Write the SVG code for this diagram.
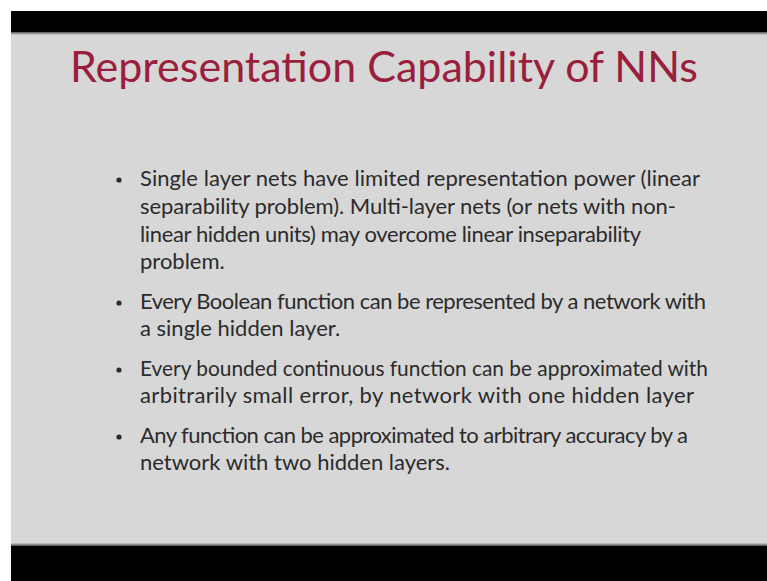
<svg xmlns="http://www.w3.org/2000/svg" width="767" height="581" viewBox="0 0 767 581">
  <defs>
    <linearGradient id="topEdge" x1="0" y1="0" x2="0" y2="1">
      <stop offset="0" stop-color="#555"/>
      <stop offset="1" stop-color="#d2d2d2"/>
    </linearGradient>
    <linearGradient id="bottomEdge" x1="0" y1="0" x2="0" y2="1">
      <stop offset="0" stop-color="#cfcfcf"/>
      <stop offset="1" stop-color="#4a4a4a"/>
    </linearGradient>
  </defs>
  <style>
    .title { font-family: Lato, "Open Sans", "Liberation Sans", sans-serif; font-size: 42px; fill: #9a1f3c; }
    .body { font-family: Lato, "Open Sans", "Liberation Sans", sans-serif; font-size: 22px; fill: #2b2b2b; }
    .dot { fill: #2b2b2b; }
  </style>

  <!-- page and slide frame -->
  <rect x="0" y="0" width="767" height="581" fill="#ffffff"/>
  <rect x="11" y="11" width="756" height="570" fill="#d7d7d7"/>
  <rect x="11" y="11" width="756" height="21" fill="#000000"/>
  <rect x="11" y="32" width="756" height="3" fill="url(#topEdge)"/>
  <rect x="11" y="543" width="756" height="3" fill="url(#bottomEdge)"/>
  <rect x="11" y="546" width="756" height="35" fill="#000000"/>

  <!-- heading -->
  <text id="title" class="title" x="70" y="82" textLength="628" lengthAdjust="spacingAndGlyphs">Representation Capability of NNs</text>

  <!-- bullet list -->
  <g id="bullet1">
    <circle class="dot" cx="119" cy="180" r="2.6"/>
    <text class="body" x="140" y="186" textLength="560" lengthAdjust="spacing">Single layer nets have limited representation power (linear</text>
    <text class="body" x="140" y="214" textLength="536" lengthAdjust="spacing">separability problem). Multi-layer nets (or nets with non-</text>
    <text class="body" x="140" y="242" textLength="501" lengthAdjust="spacing">linear hidden units) may overcome linear inseparability</text>
    <text class="body" x="140" y="269">problem.</text>
  </g>
  <g id="bullet2">
    <circle class="dot" cx="119" cy="303" r="2.6"/>
    <text class="body" x="140" y="309" textLength="566" lengthAdjust="spacing">Every Boolean function can be represented by a network with</text>
    <text class="body" x="140" y="336">a single hidden layer.</text>
  </g>
  <g id="bullet3">
    <circle class="dot" cx="119" cy="370" r="2.6"/>
    <text class="body" x="140" y="376" textLength="568" lengthAdjust="spacingAndGlyphs">Every bounded continuous function can be approximated with</text>
    <text class="body" x="140" y="403" textLength="554" lengthAdjust="spacing">arbitrarily small error, by network with one hidden layer</text>
  </g>
  <g id="bullet4">
    <circle class="dot" cx="119" cy="437" r="2.6"/>
    <text class="body" x="140" y="443" textLength="548" lengthAdjust="spacing">Any function can be approximated to arbitrary accuracy by a</text>
    <text class="body" x="140" y="470">network with two hidden layers.</text>
  </g>
</svg>
